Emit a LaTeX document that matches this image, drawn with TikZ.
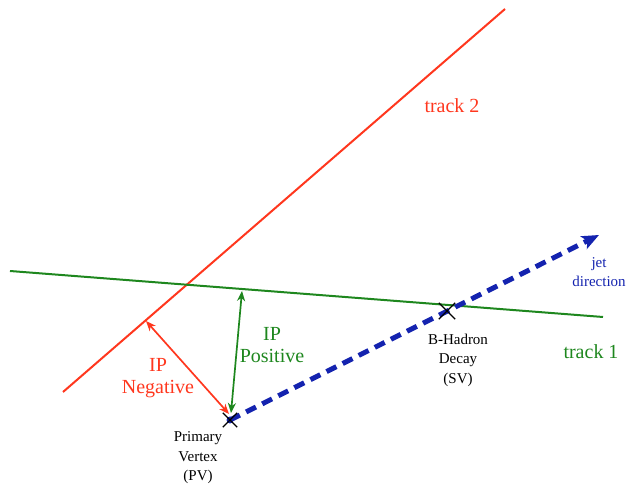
\documentclass[tikz,border=0pt]{standalone}
\usepackage{fontspec}
\setmainfont{Liberation Serif}
\usetikzlibrary{arrows.meta,shapes.misc}
\definecolor{trkred}{RGB}{255,55,30}
\definecolor{trkgreen}{RGB}{30,135,30}
\definecolor{jetblue}{RGB}{20,35,175}
\begin{document}
\begin{tikzpicture}[x=1pt,y=-1pt,
  trackline/.style={line width=2pt},
  iparrow/.style={line width=1.7pt,{Stealth[length=10pt,width=8pt,inset=3pt]}-{Stealth[length=10pt,width=8pt,inset=3pt]}},
  vtx/.style={cross out,draw=black,line width=1.3pt,minimum size=13pt,inner sep=0pt},
  bigtxt/.style={font=\fontsize{20}{22}\selectfont,align=center,inner sep=0pt},
  smalltxt/.style={font=\fontsize{15}{19.5}\selectfont,align=center,inner sep=0pt}]
\useasboundingbox (0,0) rectangle (627,486);
% tracks
\coordinate (t2a) at (63,392);
\coordinate (t2b) at (505,9);
\coordinate (t1a) at (10,271);
\coordinate (t1b) at (603,317);
\draw[trackline,trkred] (t2a) -- (t2b);
\draw[trackline,trkgreen] (t1a) -- (t1b);
% vertices
\coordinate (pv) at (230,420);
\coordinate (sv) at (447,311);
\coordinate (jetend) at (599,235);
\draw[jetblue,line width=5pt,dash pattern=on 11pt off 7pt,-{Stealth[length=17pt,width=14pt,inset=4pt]}] (pv) -- (jetend);
\fill[jetblue] (pv) circle (3.5pt);
\node[vtx] (pvx) at (pv) {};
\node[vtx,minimum size=15pt] (svx) at (sv) {};
% impact parameters
\coordinate (negtop) at (146,321);
\coordinate (negbot) at (229,414);
\coordinate (postop) at (242,291);
\coordinate (posbot) at (231,413);
\draw[iparrow,trkred] (negtop) -- (negbot);
\draw[iparrow,trkgreen] (postop) -- (posbot);
% labels
\node[bigtxt,text=trkred] (lt2) at (452,106) {track 2};
\node[bigtxt,text=trkgreen] (lt1) at (591,352) {track 1};
\node[bigtxt,text=trkgreen] (lpos) at (272,345) {IP\\Positive};
\node[bigtxt,text=trkred] (lneg) at (158,378) {IP\\Negative};
\node[smalltxt,text=jetblue] (ljet) at (599,272) {jet\\direction};
\node[smalltxt,text=black] (lpv) at (198,458) {Primary\\Vertex\\(PV)};
\node[smalltxt,text=black] (lsv) at (458,360) {B-Hadron\\Decay\\(SV)};
\end{tikzpicture}
\end{document}
